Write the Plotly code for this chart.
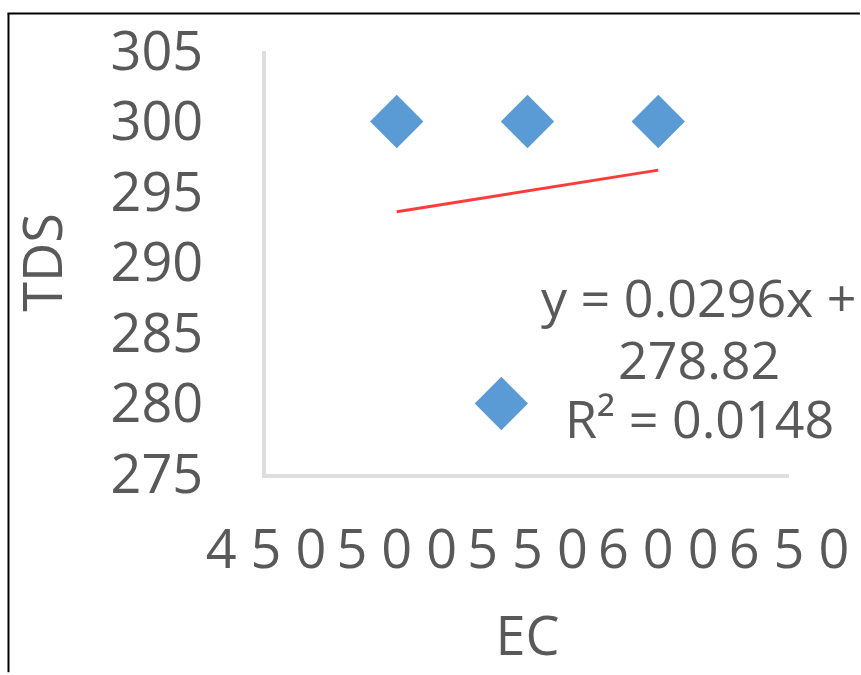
import numpy as np
import plotly.graph_objects as go

# Data
ec = [500, 550, 600, 540]
tds = [300, 300, 300, 280]

x_tickvals = [450, 500, 550, 600, 650]
x_ticklabels = ["450", "500", "550", "600", "650"]
y_tickvals = [275, 280, 285, 290, 295, 300, 305]
y_ticklabels = ["275", "280", "285", "290", "295", "300", "305"]

x_title = "EC"
y_title = "TDS"

# Linear trendline from the data
slope, intercept = np.polyfit(ec, tds, 1)
pred = np.polyval([slope, intercept], ec)
ss_res = np.sum((np.array(tds) - pred) ** 2)
ss_tot = np.sum((np.array(tds) - np.mean(tds)) ** 2)
r2 = 1 - ss_res / ss_tot
trend_x = [min(ec), max(ec)]
trend_y = list(np.polyval([slope, intercept], trend_x))

GRAY = "#595959"
FONT = "Open Sans"

fig = go.Figure()
fig.add_trace(go.Scatter(
    x=trend_x, y=trend_y, mode="lines",
    line=dict(color="#FF3B3B", width=3), hoverinfo="skip", showlegend=False))
fig.add_trace(go.Scatter(
    x=ec, y=tds, mode="markers",
    marker=dict(symbol="diamond", size=41, color="#5B9BD5", line=dict(width=0)),
    showlegend=False))

# Trendline equation, one annotation per line
eq_lines = [f"y = {slope:.4f}x +", f"{intercept:.2f}", f"R² = {r2:.4f}"]
eq_y = [294, 357, 417]  # pixel rows
L, R, T, B = 266, 71, 45, 201
W, H = 861, 675
pw, ph = W - L - R, H - T - B
for txt, py in zip(eq_lines, eq_y):
    fig.add_annotation(
        x=(700 - L) / pw, y=(H - B - py) / ph, xref="paper", yref="paper",
        text=txt, showarrow=False, xanchor="center", yanchor="middle",
        font=dict(family=FONT, size=52, color=GRAY))

# image frame (top and left edges)
def px2paper_x(px):
    return (px - L) / pw

def py2paper_y(py):
    return (H - B - py) / ph

fig.add_shape(type="line", xref="paper", yref="paper",
              x0=px2paper_x(7), x1=px2paper_x(861), y0=py2paper_y(7), y1=py2paper_y(7),
              line=dict(color="black", width=2))
fig.add_shape(type="line", xref="paper", yref="paper",
              x0=px2paper_x(8), x1=px2paper_x(8), y0=py2paper_y(7), y1=py2paper_y(675),
              line=dict(color="black", width=2))

fig.update_layout(
    width=W, height=H,
    margin=dict(l=L, r=R, t=T, b=B),
    paper_bgcolor="white", plot_bgcolor="white",
    font=dict(family=FONT, color=GRAY),
    xaxis=dict(
        range=[450, 650], tickvals=x_tickvals,
        ticktext=[" ".join(t) for t in x_ticklabels],
        showgrid=False, zeroline=False, showline=True,
        linecolor="#DEDEDE", linewidth=4, ticks="",
        ticklabelstandoff=25,
        tickfont=dict(family=FONT, size=54, color=GRAY),
        title=dict(text=x_title, font=dict(family=FONT, size=54, color=GRAY), standoff=35),
    ),
    yaxis=dict(
        range=[275, 305], tickvals=y_tickvals, ticktext=y_ticklabels,
        showgrid=False, zeroline=False, showline=True,
        linecolor="#DEDEDE", linewidth=4, ticks="",
        ticklabelstandoff=48,
        tickfont=dict(family=FONT, size=54, color=GRAY),
        title=dict(text=y_title, font=dict(family=FONT, size=54, color=GRAY), standoff=32),
    ),
)

fig.write_html(
    "out.html",
    config={"displayModeBar": False},
    post_script="document.body.style.margin='0';document.body.style.overflow='hidden';",
)
